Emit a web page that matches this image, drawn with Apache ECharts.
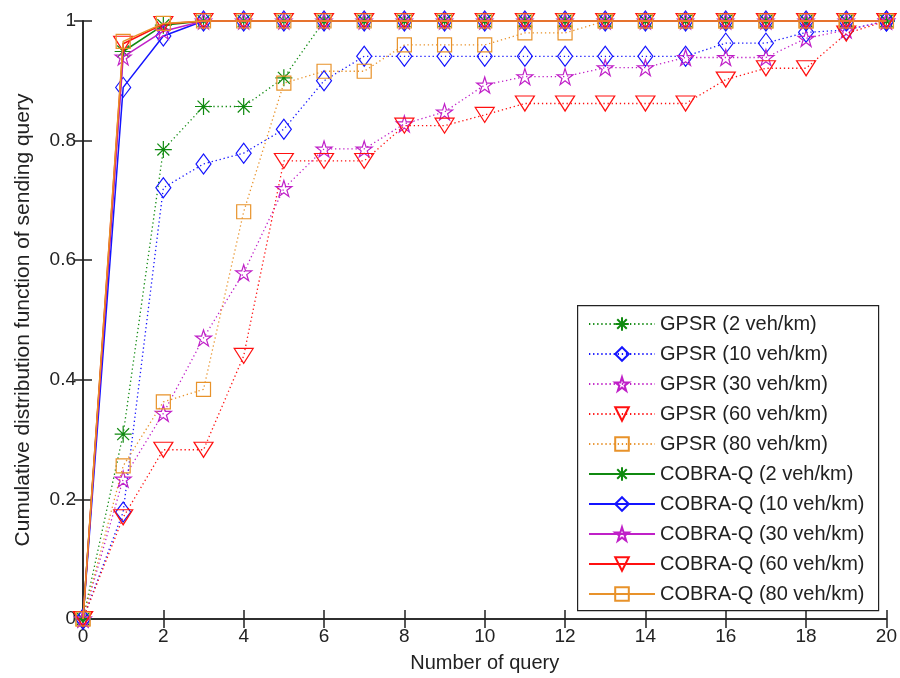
<!DOCTYPE html>
<html>
<head>
<meta charset="utf-8">
<script src="https://cdn.jsdelivr.net/npm/echarts@6/dist/echarts.min.js"></script>
<style>
html,body{margin:0;padding:0;background:#fff;}
#chart{width:900px;height:678px;}
</style>
</head>
<body>
<div id="chart"></div>
<script>
// ---- data ----
const xValues = [0,1,2,3,4,5,6,7,8,9,10,11,12,13,14,15,16,17,18,19,20];
const xTicks = [0,2,4,6,8,10,12,14,16,18,20];
const yTicks = [0,0.2,0.4,0.6,0.8,1];

const gpsr2  = [0,0.309,0.785,0.857,0.857,0.905,1,1,1,1,1,1,1,1,1,1,1,1,1,1,1];
const gpsr10 = [0,0.179,0.721,0.761,0.779,0.819,0.900,0.941,0.941,0.941,0.941,0.941,0.941,0.941,0.941,0.941,0.963,0.963,0.981,0.985,1];
const gpsr30 = [0,0.234,0.344,0.470,0.579,0.720,0.786,0.786,0.828,0.848,0.893,0.907,0.907,0.922,0.922,0.939,0.939,0.939,0.971,0.985,1];
const gpsr60 = [0,0.170,0.283,0.283,0.440,0.766,0.766,0.766,0.825,0.825,0.843,0.862,0.862,0.862,0.862,0.862,0.902,0.921,0.921,0.979,1];
const gpsr80 = [0,0.256,0.363,0.384,0.681,0.896,0.916,0.916,0.960,0.960,0.960,0.980,0.980,1,1,1,1,1,1,1,1];
const cobra2  = [0,0.949,0.993,1,1,1,1,1,1,1,1,1,1,1,1,1,1,1,1,1,1];
const cobra10 = [0,0.889,0.975,1,1,1,1,1,1,1,1,1,1,1,1,1,1,1,1,1,1];
const cobra30 = [0,0.940,0.983,1,1,1,1,1,1,1,1,1,1,1,1,1,1,1,1,1,1];
const cobra60 = [0,0.962,0.995,1,1,1,1,1,1,1,1,1,1,1,1,1,1,1,1,1,1];
const cobra80 = [0,0.966,0.996,1,1,1,1,1,1,1,1,1,1,1,1,1,1,1,1,1,1];

const names = [
  'GPSR (2 veh/km)','GPSR (10 veh/km)','GPSR (30 veh/km)','GPSR (60 veh/km)','GPSR (80 veh/km)',
  'COBRA-Q (2 veh/km)','COBRA-Q (10 veh/km)','COBRA-Q (30 veh/km)','COBRA-Q (60 veh/km)','COBRA-Q (80 veh/km)'
];
const values = [gpsr2,gpsr10,gpsr30,gpsr60,gpsr80,cobra2,cobra10,cobra30,cobra60,cobra80];

// ---- styles ----
const colors = ['#108a10','#1414ff','#c020c8','#ff1010','#e8922a'];
const SYM = {
  asterisk: 'path://M0,-1L0,1M-1,0L1,0M-0.7,-0.7L0.7,0.7M-0.7,0.7L0.7,-0.7',
  diamond: 'path://M0,-1L0.8,0L0,1L-0.8,0Z',
  star: 'path://M0,-1L0.2245,-0.309L0.951,-0.309L0.3633,0.118L0.5878,0.809L0,0.382L-0.5878,0.809L-0.3633,0.118L-0.951,-0.309L-0.2245,-0.309Z',
  tri: 'path://M-1,-0.75L1,-0.75L0,1Z',
  square: 'path://M-1,-1L1,-1L1,1L-1,1Z'
};
const symbols = [SYM.asterisk, SYM.diamond, SYM.star, SYM.tri, SYM.square];
const sizes = [[17,17],[15,20],[16,16],[19,15],[14,14]];
const FONT = 'Liberation Sans';

const series = values.map((vals, i) => {
  const k = i % 5;
  const dotted = i < 5;
  return {
    name: names[i],
    type: 'line',
    data: xValues.map((x, j) => [x, vals[j]]),
    symbol: symbols[k],
    symbolSize: sizes[k],
    symbolKeepAspect: false,
    showAllSymbol: true,
    clip: false,
    z: 2 + i,
    lineStyle: {color: colors[k], width: dotted ? 1.3 : 1.5, type: dotted ? [1.3, 2.8] : 'solid'},
    itemStyle: {color: 'none', borderColor: colors[k], borderWidth: 1.2},
    emphasis: {disabled: true},
    animation: false
  };
});

const axisLineStyle = {color: '#222', width: 1.5};
const chart = echarts.init(document.getElementById('chart'), null, {renderer: 'canvas'});
chart.setOption({
  backgroundColor: '#fff',
  animation: false,
  grid: {left: 83, right: 13, top: 21, bottom: 59, containLabel: false},
  xAxis: [{
    type: 'value', min: 0, max: 20, interval: 2, position: 'bottom',
    name: 'Number of query', nameLocation: 'middle', nameGap: 34,
    nameTextStyle: {fontFamily: FONT, fontSize: 20, color: '#222'},
    axisLine: {show: true, lineStyle: axisLineStyle},
    axisTick: {show: true, inside: true, length: 9, lineStyle: axisLineStyle},
    axisLabel: {fontFamily: FONT, fontSize: 19, color: '#222', margin: 8,
      formatter: v => xTicks.indexOf(v) >= 0 ? String(v) : ''},
    splitLine: {show: false}
  }, {
    type: 'value', min: 0, max: 20, interval: 2, position: 'top',
    axisLine: {show: true, lineStyle: axisLineStyle},
    axisTick: {show: true, inside: true, length: 9, lineStyle: axisLineStyle},
    axisLabel: {show: false}, splitLine: {show: false}
  }],
  yAxis: [{
    type: 'value', min: 0, max: 1, interval: 0.2, position: 'left',
    name: 'Cumulative distribution function of sending query', nameLocation: 'middle', nameGap: 49,
    nameTextStyle: {fontFamily: FONT, fontSize: 21, color: '#222'},
    axisLine: {show: true, lineStyle: axisLineStyle},
    axisTick: {show: true, inside: true, length: 9, lineStyle: axisLineStyle},
    axisLabel: {fontFamily: FONT, fontSize: 19, color: '#222', margin: 7,
      formatter: v => {
        const t = yTicks.find(t => Math.abs(t - v) < 1e-9);
        if (t === undefined) return '';
        return (t === 0 || t === 1) ? String(t) : t.toFixed(1);
      }},
    splitLine: {show: false}
  }, {
    type: 'value', min: 0, max: 1, interval: 0.2, position: 'right',
    axisLine: {show: true, lineStyle: axisLineStyle},
    axisTick: {show: true, inside: true, length: 9, lineStyle: axisLineStyle},
    axisLabel: {show: false}, splitLine: {show: false}
  }],
  legend: {
    orient: 'vertical', left: 588, top: 314, padding: 0, z: 30,
    itemWidth: 66, itemHeight: 17, itemGap: 10,
    textStyle: {fontFamily: FONT, fontSize: 20, color: '#222'},
    selectedMode: false,
    data: names
  },
  graphic: [{
    type: 'rect', left: 577, top: 305, z: 25, silent: true,
    shape: {x: 0, y: 0, width: 301, height: 305},
    style: {fill: '#fff', stroke: '#222', lineWidth: 1.2}
  }],
  series: series
});
</script>
</body>
</html>
